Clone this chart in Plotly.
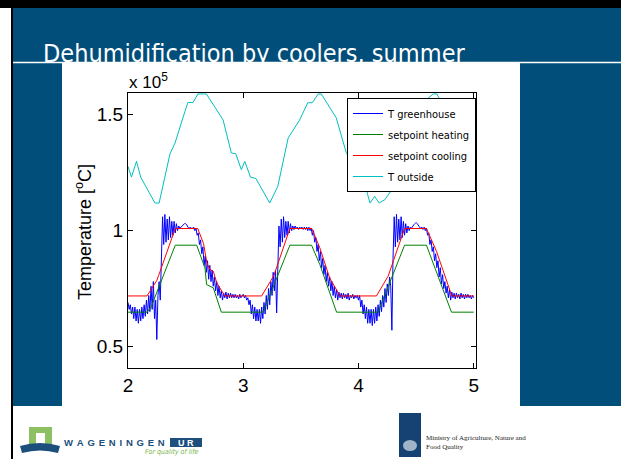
import plotly.graph_objects as go

# ---------------- data (values in units of 1e5, as on the axis) ----------------
time_gh = [round(2 + 0.01 * i, 2) for i in range(301)]
t_greenhouse = [
    0.69, 0.66, 0.68, 0.64, 0.67, 0.62, 0.67, 0.61, 0.66, 0.60,
    0.66, 0.61, 0.67, 0.62, 0.68, 0.63, 0.70, 0.64, 0.72, 0.65,
    0.76, 0.66, 0.78, 0.62, 0.70, 0.53, 0.72, 0.78, 0.70, 0.85,
    1.06, 0.94, 1.07, 0.95, 1.05, 0.96, 1.06, 0.97, 1.04, 0.98,
    1.04, 0.99, 1.03, 1.00, 1.02, 1.01, 1.015, 1.02, 1.025, 1.03,
    1.03, 1.025, 1.015, 1.01, 1.015, 1.01, 1.01, 1.015, 1.00, 1.01,
    0.98, 0.99, 0.94, 0.96, 0.90, 0.93, 0.85, 0.89, 0.82, 0.87,
    0.79, 0.85, 0.78, 0.83, 0.76, 0.80, 0.74, 0.78, 0.72, 0.76,
    0.71, 0.74, 0.70, 0.73, 0.71, 0.735, 0.705, 0.73, 0.71, 0.73,
    0.71, 0.725, 0.71, 0.725, 0.71, 0.72, 0.705, 0.725, 0.71, 0.72,
    0.725, 0.71, 0.72, 0.70, 0.71, 0.68, 0.70, 0.64, 0.68, 0.62,
    0.67, 0.61, 0.66, 0.61, 0.66, 0.60, 0.67, 0.62, 0.69, 0.64,
    0.72, 0.66, 0.75, 0.68, 0.78, 0.72, 0.82, 0.74, 0.83, 0.645,
    0.88, 1.02, 0.93, 1.05, 0.95, 1.06, 0.97, 1.04, 0.98, 1.04,
    0.99, 1.03, 1.00, 1.02, 1.005, 1.02, 1.01, 1.015, 1.005, 1.015,
    1.01, 1.015, 1.005, 1.015, 1.005, 1.015, 1.00, 1.015, 1.00, 1.01,
    0.98, 1.00, 0.95, 0.97, 0.91, 0.94, 0.87, 0.91, 0.84, 0.88,
    0.81, 0.85, 0.78, 0.82, 0.76, 0.80, 0.74, 0.78, 0.72, 0.76,
    0.71, 0.745, 0.70, 0.735, 0.71, 0.73, 0.705, 0.73, 0.71, 0.725,
    0.705, 0.73, 0.70, 0.72, 0.71, 0.725, 0.705, 0.72, 0.71, 0.72,
    0.70, 0.72, 0.67, 0.70, 0.64, 0.68, 0.62, 0.67, 0.60, 0.66,
    0.60, 0.66, 0.59, 0.66, 0.60, 0.67, 0.61, 0.68, 0.63, 0.70,
    0.65, 0.72, 0.67, 0.75, 0.69, 0.77, 0.72, 0.80, 0.76, 0.57,
    0.88, 1.06, 0.93, 1.07, 0.95, 1.05, 0.96, 1.06, 0.97, 1.04,
    0.98, 1.03, 0.99, 1.02, 1.00, 1.015, 1.01, 1.02, 1.025, 1.03,
    1.035, 1.03, 1.02, 1.015, 1.01, 1.015, 1.005, 1.015, 1.00, 1.01,
    0.98, 0.99, 0.94, 0.96, 0.91, 0.93, 0.87, 0.90, 0.84, 0.87,
    0.80, 0.84, 0.77, 0.81, 0.75, 0.78, 0.73, 0.76, 0.71, 0.745,
    0.70, 0.735, 0.71, 0.73, 0.705, 0.73, 0.71, 0.725, 0.705, 0.73,
    0.71, 0.725, 0.705, 0.725, 0.71, 0.725, 0.71, 0.72, 0.705, 0.72,
    0.71,
]

time_heat = [2.00, 2.165, 2.20, 2.41, 2.596, 2.668, 2.682, 2.71, 2.74, 2.81,
             3.173, 3.405, 3.593, 3.665, 3.737, 3.81,
             4.17, 4.40, 4.59, 4.807, 5.00]
sp_heating = [0.648, 0.648, 0.67, 0.937, 0.937, 0.839, 0.767, 0.76, 0.753, 0.648,
              0.648, 0.937, 0.937, 0.853, 0.753, 0.648,
              0.648, 0.937, 0.937, 0.648, 0.648]

time_cool = [2.00, 2.165, 2.25, 2.265, 2.41, 2.605, 2.655, 2.685, 2.71, 2.74, 2.77, 2.84,
             3.16, 3.25, 3.265, 3.405, 3.595, 3.665, 3.75, 3.84,
             4.156, 4.257, 4.40, 4.59, 4.677, 4.81, 5.00]
sp_cooling = [0.718, 0.718, 0.785, 0.805, 1.009, 1.009, 0.945, 0.86, 0.832, 0.825, 0.775, 0.718,
              0.718, 0.789, 0.805, 1.009, 1.009, 0.925, 0.796, 0.718,
              0.718, 0.803, 1.009, 1.009, 0.911, 0.718, 0.718]

time_out = [2.00, 2.03, 2.074, 2.11, 2.234, 2.27, 2.364, 2.408, 2.494, 2.52, 2.564, 2.607, 2.68,
            2.825, 2.897, 2.935, 2.984, 3.013, 3.063, 3.11, 3.23, 3.30, 3.39, 3.49, 3.56, 3.60,
            3.65, 3.677, 3.807, 3.894, 3.94, 3.99, 4.02, 4.06, 4.08, 4.10, 4.14, 4.18, 4.23,
            4.285, 4.35, 4.45, 4.55, 4.65, 4.68, 4.80, 4.90, 4.98, 5.00]
t_outside = [1.277, 1.231, 1.299, 1.231, 1.119, 1.119, 1.331, 1.378, 1.514, 1.553, 1.553, 1.59, 1.59,
             1.478, 1.335, 1.332, 1.263, 1.299, 1.231, 1.225, 1.119, 1.191, 1.40, 1.478, 1.552, 1.552,
             1.59, 1.59, 1.487, 1.336, 1.30, 1.26, 1.25, 1.20, 1.155, 1.119, 1.148, 1.119, 1.134,
             1.174, 1.35, 1.48, 1.55, 1.59, 1.59, 1.48, 1.33, 1.20, 1.19]

x_ticks = [2, 3, 4, 5]
y_ticks = [0.5, 1, 1.5]
y_tick_labels = ["0.5", "1", "1.5"]

# ---------------- page geometry helpers ----------------
W, H = 621, 459
L, R, T, B = 128, 476, 93, 368


def px(X):
    return (X - L) / (R - L)


def py(Y):
    return (B - Y) / (B - T)


SLIDE_BLUE = "#024E7A"
NARROW = "Liberation Sans Narrow, Arial Narrow, DejaVu Sans Condensed, sans-serif"
ARIAL = "Liberation Sans, Arial, sans-serif"

fig = go.Figure()
fig.add_trace(go.Scatter(x=time_gh, y=t_greenhouse, mode="lines", name="T greenhouse",
                         legendgroup="g1", line=dict(color="#0000FF", width=1)))
fig.add_trace(go.Scatter(x=time_heat, y=sp_heating, mode="lines", name="setpoint heating",
                         legendgroup="g2", line=dict(color="#008000", width=1)))
fig.add_trace(go.Scatter(x=time_cool, y=sp_cooling, mode="lines", name="setpoint cooling",
                         legendgroup="g3", line=dict(color="#FF0000", width=1)))
fig.add_trace(go.Scatter(x=time_out, y=t_outside, mode="lines", name="T outside",
                         legendgroup="g4", line=dict(color="#00BFBF", width=1)))


def rect(x0, y0, x1, y1, color, layer="below"):
    return dict(type="rect", xref="paper", yref="paper",
                x0=px(x0), x1=px(x1), y0=py(y1), y1=py(y0),
                fillcolor=color, line=dict(width=0), layer=layer)


shapes = [
    rect(0, 0, 621, 8, "#000000"),
    rect(11, 8, 13, 459, "#000000"),
    rect(13, 8, 621, 63, SLIDE_BLUE),
    rect(13, 63, 62, 406, SLIDE_BLUE),
    rect(520, 63, 621, 406, SLIDE_BLUE),
    dict(type="line", xref="paper", yref="paper", x0=px(13), x1=px(621), y0=py(62.5), y1=py(62.5),
         line=dict(color="white", width=1.5), layer="below"),
    # Wageningen UR logo
    rect(29, 427, 52, 447, "#8CC063"),
    rect(36, 433, 45, 447, "#FFFFFF"),
    dict(type="path", xref="paper", yref="paper", layer="below",
         path="M {a},{b} Q {c},{d} {e},{f} L {g},{h} Q {i},{j} {k},{l} Z".format(
             a=px(20), b=py(446), c=px(40), d=py(440), e=px(60), f=py(446),
             g=px(58), h=py(453), i=px(40), j=py(448), k=px(22), l=py(453)),
         fillcolor="#1D4F7C", line=dict(width=0)),
    rect(170, 438, 202, 447, "#1D4F7C"),
    # Ministry logo
    rect(399, 413, 421, 457, "#154273"),
    dict(type="circle", xref="paper", yref="paper", layer="below",
         x0=px(403), x1=px(417), y0=py(451), y1=py(440),
         fillcolor="rgba(255,255,255,0.6)", line=dict(width=0)),
]

SP = "\u2009\u2009"
annotations = [
    dict(text="Dehumidification by coolers, summer", xref="paper", yref="paper",
         x=px(41), y=py(54), xanchor="left", yanchor="middle", showarrow=False,
         font=dict(family=NARROW, size=25, color="white")),
    dict(text="x 10<sup>5</sup>", xref="paper", yref="paper",
         x=px(127), y=py(81), xanchor="left", yanchor="middle", showarrow=False,
         font=dict(family=ARIAL, size=17, color="black")),
    dict(text="Temperature [<sup>o</sup>C]", xref="paper", yref="paper",
         x=px(84), y=py(232), xanchor="center", yanchor="middle", textangle=-90,
         showarrow=False, font=dict(family=ARIAL, size=18, color="black")),
    dict(text="<b>" + SP.join("WAGENINGEN") + "</b>", xref="paper", yref="paper",
         x=px(62), y=py(442.5), xanchor="left", yanchor="middle", showarrow=False,
         font=dict(family=ARIAL, size=9.5, color="#1D4F7C")),
    dict(text="<b>U R</b>", xref="paper", yref="paper",
         x=px(186), y=py(442.5), xanchor="center", yanchor="middle", showarrow=False,
         font=dict(family=ARIAL, size=9, color="white")),
    dict(text="<i>For quality of life</i>", xref="paper", yref="paper",
         x=px(143), y=py(452), xanchor="left", yanchor="middle", showarrow=False,
         font=dict(family=NARROW, size=7, color="#7AB648")),
    dict(text="Ministry of Agriculture, Nature and<br>Food Quality", xref="paper", yref="paper",
         x=px(424), y=py(442.5), xanchor="left", yanchor="middle", align="left", showarrow=False,
         font=dict(family="Liberation Serif, serif", size=7, color="#222222")),
]

axis_common = dict(showline=True, linecolor="black", linewidth=1, mirror="allticks",
                   ticks="inside", ticklen=5, tickcolor="black", showgrid=False,
                   zeroline=False, automargin=False,
                   tickfont=dict(family=ARIAL, size=19, color="black"))

fig.update_layout(
    width=W, height=H,
    margin=dict(l=L, r=W - R, t=T, b=H - B, pad=0),
    paper_bgcolor="white", plot_bgcolor="white",
    showlegend=True,
    legend=dict(x=px(347), y=py(98), xanchor="left", yanchor="top",
                bgcolor="white", bordercolor="black", borderwidth=1,
                font=dict(family=NARROW, size=11, color="black"),
                itemwidth=30, tracegroupgap=2),
    xaxis=dict(range=[2, 5.02], tickvals=x_ticks, ticktext=[str(v) for v in x_ticks], **axis_common),
    yaxis=dict(range=[0.407, 1.594], tickvals=y_ticks, ticktext=y_tick_labels, **axis_common),
    shapes=shapes,
    annotations=annotations,
)

fig.write_html(
    "out.html",
    config={"displayModeBar": False},
    post_script="document.body.style.margin='0';document.body.style.padding='0';"
                "document.body.style.overflow='hidden';",
)
